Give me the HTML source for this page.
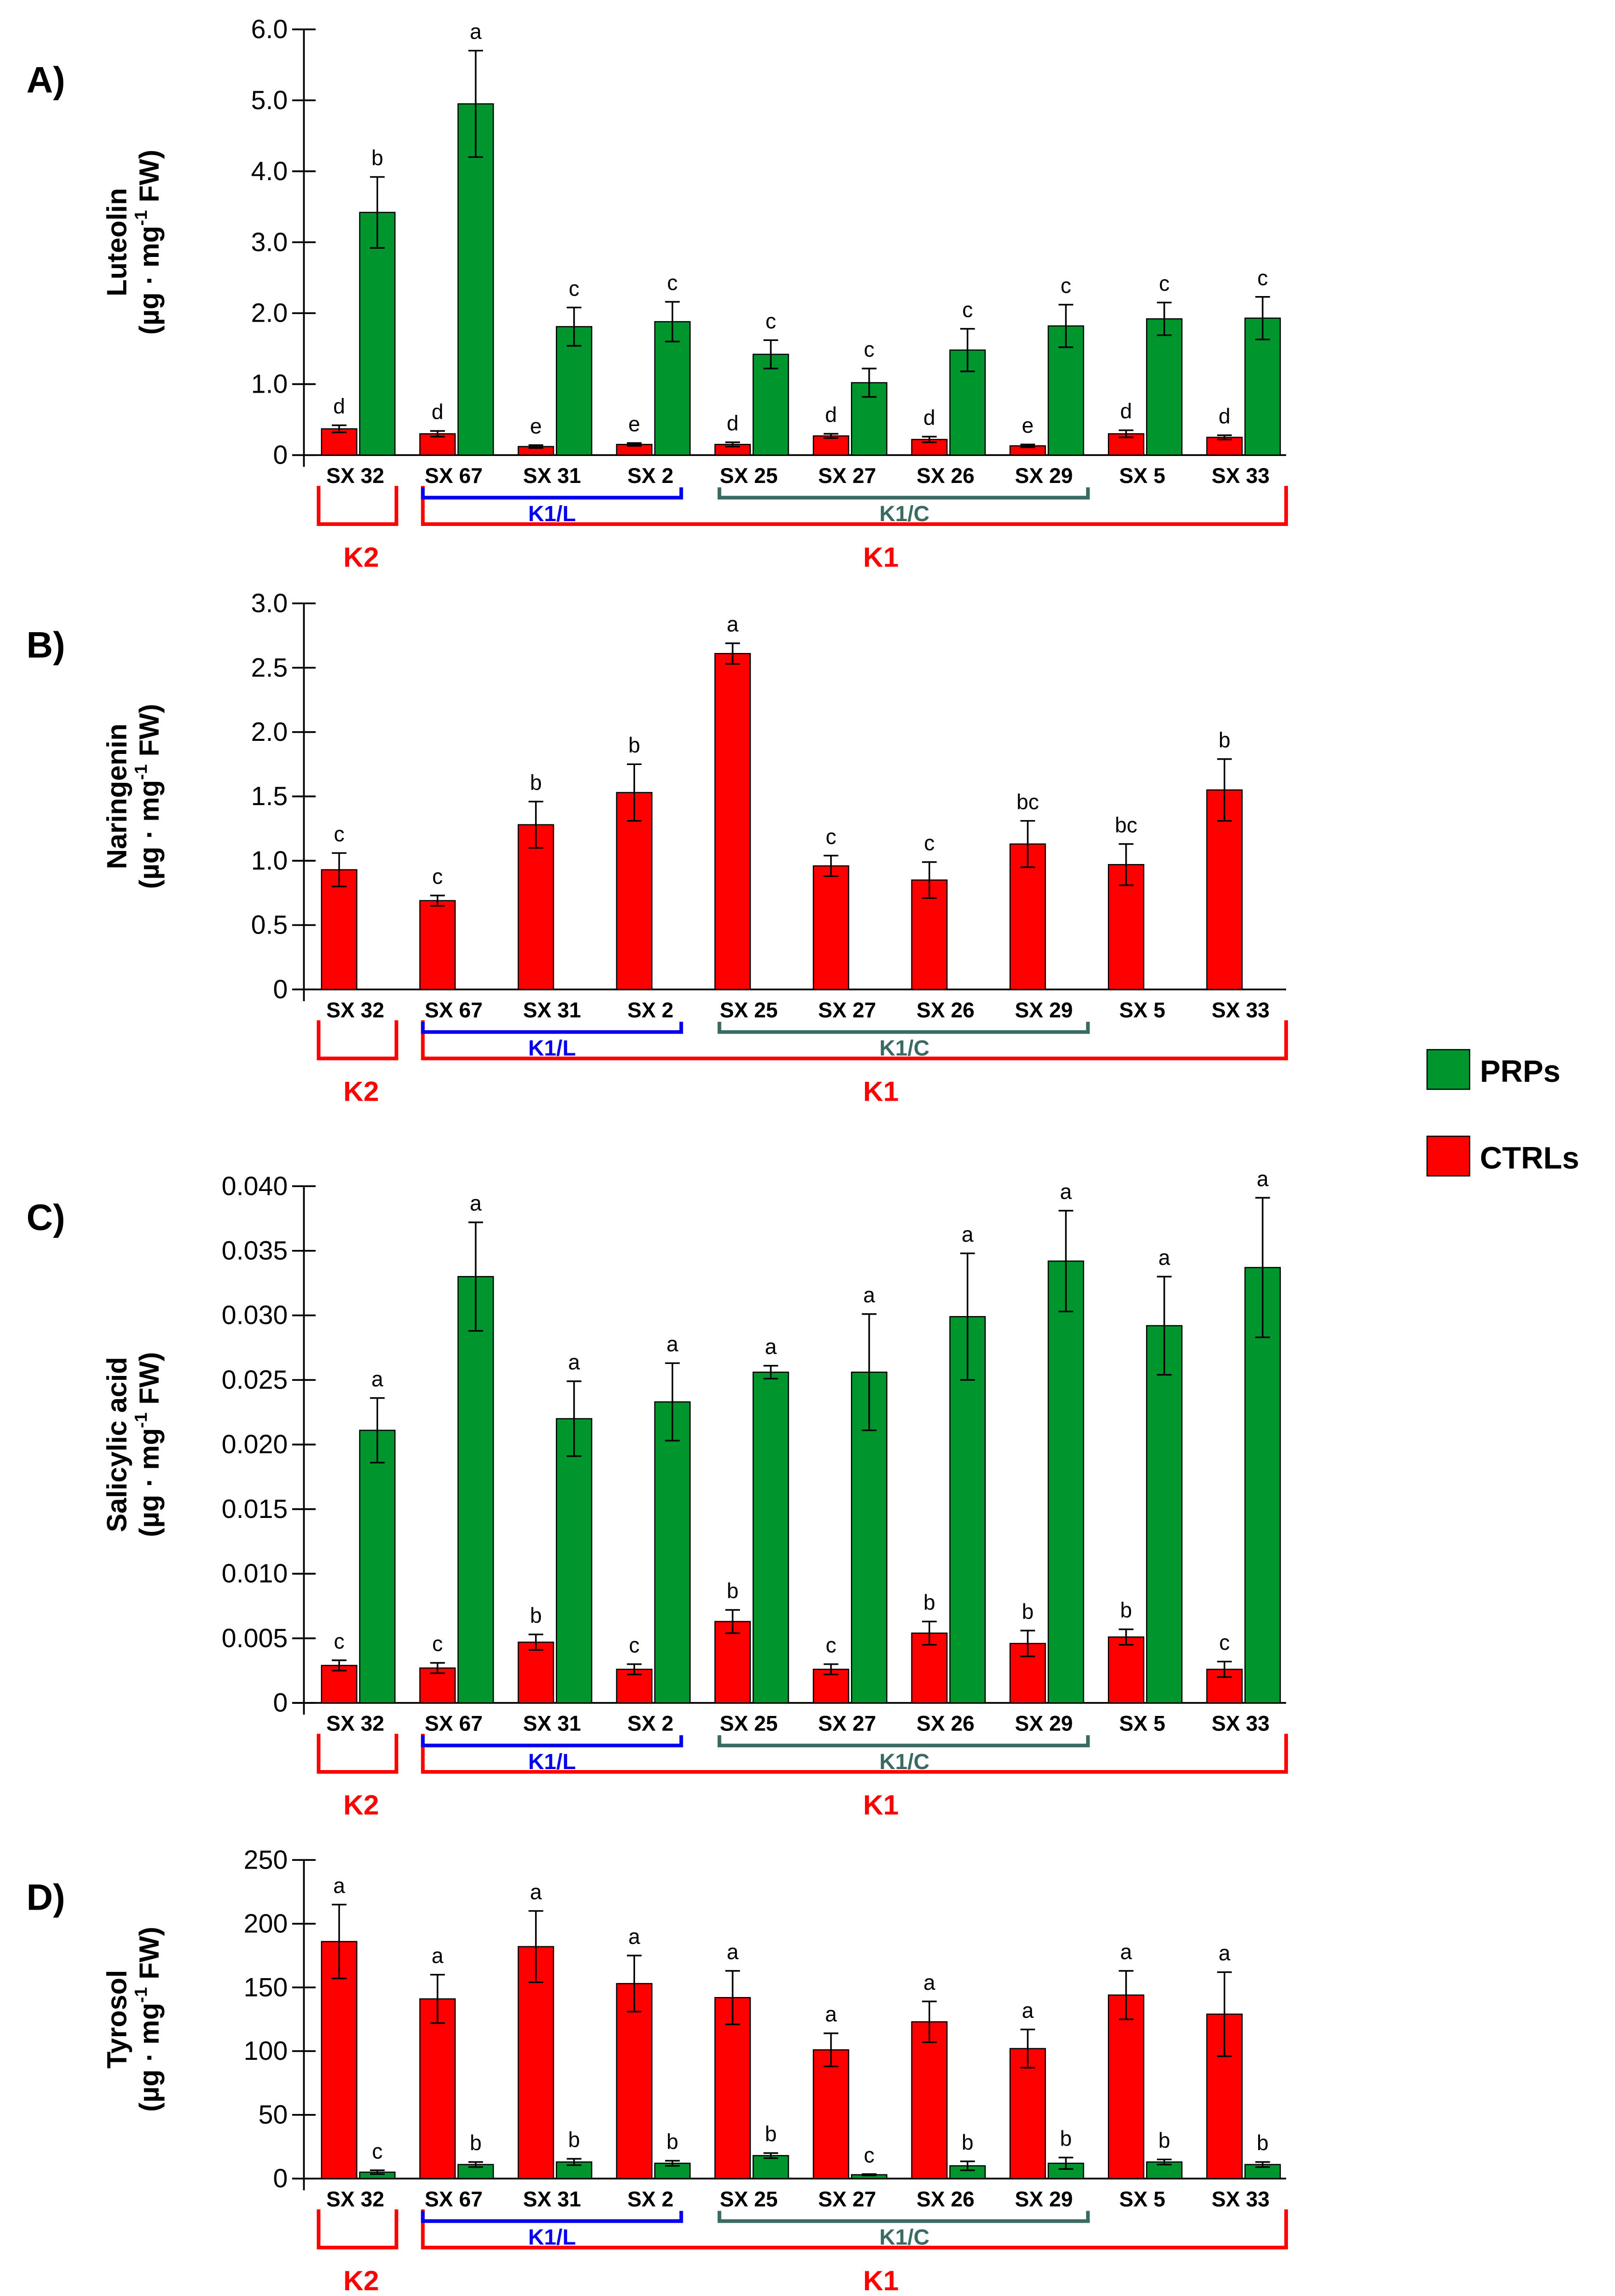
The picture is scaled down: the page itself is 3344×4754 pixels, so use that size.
<!DOCTYPE html>
<html><head><meta charset="utf-8"><style>
html,body{margin:0;padding:0;background:#fff}
svg{display:block}
text{font-family:"Liberation Sans",Arial,sans-serif}
</style></head>
<body>
<svg id="fig" width="3344" height="4754" viewBox="0 0 1100 1564" preserveAspectRatio="none" xmlns="http://www.w3.org/2000/svg"></svg>
<script>
const categories=["SX 32","SX 67","SX 31","SX 2","SX 25","SX 27","SX 26","SX 29","SX 5","SX 33"];
const lutRed=[0.37,0.30,0.12,0.15,0.15,0.27,0.22,0.13,0.30,0.25];
const lutRedErr=[0.05,0.04,0.02,0.02,0.03,0.03,0.04,0.02,0.05,0.03];
const lutGreen=[3.42,4.95,1.81,1.88,1.42,1.02,1.48,1.82,1.92,1.93];
const lutGreenErr=[0.5,0.75,0.27,0.28,0.2,0.2,0.3,0.3,0.23,0.3];
const lutRedLet=["d","d","e","e","d","d","d","e","d","d"];
const lutGreenLet=["b","a","c","c","c","c","c","c","c","c"];
const lutTicks=["0","1.0","2.0","3.0","4.0","5.0","6.0"];
const narRed=[0.93,0.69,1.28,1.53,2.61,0.96,0.85,1.13,0.97,1.55];
const narRedErr=[0.13,0.04,0.18,0.22,0.08,0.08,0.14,0.18,0.16,0.24];
const narRedLet=["c","c","b","b","a","c","c","bc","bc","b"];
const narTicks=["0","0.5","1.0","1.5","2.0","2.5","3.0"];
const salRed=[0.0029,0.0027,0.0047,0.0026,0.0063,0.0026,0.0054,0.0046,0.0051,0.0026];
const salRedErr=[0.0004,0.0004,0.0006,0.0004,0.0009,0.0004,0.0009,0.0010,0.0006,0.0006];
const salRedLet=["c","c","b","c","b","c","b","b","b","c"];
const salGreen=[0.0211,0.0330,0.0220,0.0233,0.0256,0.0256,0.0299,0.0342,0.0292,0.0337];
const salGreenErr=[0.0025,0.0042,0.0029,0.0030,0.0005,0.0045,0.0049,0.0039,0.0038,0.0054];
const salGreenLet=["a","a","a","a","a","a","a","a","a","a"];
const salTicks=["0","0.005","0.010","0.015","0.020","0.025","0.030","0.035","0.040"];
const tyrRed=[186,141,182,153,142,101,123,102,144,129];
const tyrRedErr=[29,19,28,22,21,13,16,15,19,33];
const tyrRedLet=["a","a","a","a","a","a","a","a","a","a"];
const tyrGreen=[5,11,13,12,18,3,10,12,13,11];
const tyrGreenErr=[1.5,2,2.5,2,2,0.5,3.5,4.5,2,2];
const tyrGreenLet=["c","b","b","b","b","c","b","b","b","b"];
const tyrTicks=["0","50","100","150","200","250"];

const NS="http://www.w3.org/2000/svg";
const svg=document.getElementById('fig');
function el(tag,attrs,parent,txt){const e=document.createElementNS(NS,tag);for(const k in attrs)e.setAttribute(k,attrs[k]);if(txt!==undefined)e.textContent=txt;(parent||svg).appendChild(e);return e;}
const AX=207, AXEND=876, C0=244, STEP=67;
function xc(i){return C0+i*STEP;}

function panel(o){
  const g=el('g',{});
  
  
  const y=v=>o.y0-(v/o.max)*(o.y0-o.yTop);
  const pl=el('text',{x:18,y:o.letterY,'font-size':25,'font-weight':'bold'},g,o.letter);
  
  
  const cy=(o.y0+o.yTop)/2;
  const t=el('text',{transform:`translate(86,${cy}) rotate(-90)`,'text-anchor':'middle','font-size':19,'font-weight':'bold'},g,o.title);
  
  
  const t2=el('text',{transform:`translate(108,${cy}) rotate(-90)`,'text-anchor':'middle','font-size':19,'font-weight':'bold'},g);
  
  
  el('tspan',{},t2,'(µg · mg');
  el('tspan',{'font-size':12,dy:-8},t2,'-1');
  el('tspan',{dy:8},t2,' FW)');
  const ya=el('line',{x1:AX,y1:o.yTop,x2:AX,y2:o.y0+8,stroke:'#000','stroke-width':1.2},g);
  
  
  const xa=el('line',{x1:AX-8,y1:o.y0,x2:AXEND,y2:o.y0,stroke:'#000','stroke-width':1.2},g);
  
  
  o.ticks.forEach((tk,i)=>{
    const v=i*o.max/(o.ticks.length-1), yy=y(v);
    const l=el('line',{x1:AX-8,y1:yy,x2:AX+8,y2:yy,stroke:'#000','stroke-width':1.2},g);
    
    
    const tx=el('text',{x:AX-11,y:yy+6,'text-anchor':'end','font-size':18},g,tk);
    
    
  });
  const series=[];
  if(o.red)series.push({v:o.red,e:o.redErr,l:o.redLet,c:'#ff0000',off:-25,n:'ctrl'});
  if(o.green)series.push({v:o.green,e:o.greenErr,l:o.greenLet,c:'#00962e',off:1,n:'prp'});
  series.forEach(s=>{
    s.v.forEach((v,i)=>{
      const x=xc(i)+s.off, top=y(v);
      const b=el('rect',{x:x,y:top,width:24,height:o.y0-top,fill:s.c,stroke:'#000','stroke-width':0.8},g);
      
      
      const cx=x+12, e1=y(v+s.e[i]), e2=y(Math.max(0,v-s.e[i]));
      const eb=el('path',{d:`M${cx},${e1}V${e2}M${cx-5},${e1}H${cx+5}M${cx-5},${e2}H${cx+5}`,stroke:'#000','stroke-width':1.1,fill:'none'},g);
      
      
      const lt=el('text',{x:cx,y:e1-8,'text-anchor':'middle','font-size':14.5},g,s.l[i]);
      
      
    });
  });
  categories.forEach((c,i)=>{
    const lx=el('text',{x:xc(i)-2,y:o.y0+19,'text-anchor':'middle','font-size':14.5,'font-weight':'bold'},g,c);
    
    
  });
  const by=o.y0+21, bb=o.y0+47;
  const br=(d,c,w,n)=>{const p=el('path',{d:d,stroke:c,'stroke-width':w,fill:'none'},g);};
  br(`M217,${by}V${bb}H270V${by}`,'#ff0000',2.5,'k2-bracket');
  br(`M288,${by}V${bb}H876V${by}`,'#ff0000',2.5,'k1-bracket');
  br(`M288,${by+1}V${by+8}H464V${by+1}`,'#0000ee',2.5,'k1l-bracket');
  br(`M490,${by+1}V${by+8}H741V${by+1}`,'#3a6b62',2.5,'k1c-bracket');
  const lab=(x,yy,txt,c,sz,n)=>{const q=el('text',{x:x,y:yy,'text-anchor':'middle','font-size':sz,'font-weight':'bold',fill:c},g,txt);};
  lab(376,by+24,'K1/L','#0000ee',15,'k1l-label');
  lab(616,by+24,'K1/C','#3a6b62',15,'k1c-label');
  lab(246,bb+29,'K2','#ff0000',19,'k2-label');
  lab(600,bb+29,'K1','#ff0000',19,'k1-label');
}
panel({name:'luteolin',letter:'A)',letterY:63,title:'Luteolin',y0:310,yTop:20,max:6,ticks:lutTicks,red:lutRed,redErr:lutRedErr,redLet:lutRedLet,green:lutGreen,greenErr:lutGreenErr,greenLet:lutGreenLet});
panel({name:'naringenin',letter:'B)',letterY:448,title:'Naringenin',y0:674,yTop:411,max:3,ticks:narTicks,red:narRed,redErr:narRedErr,redLet:narRedLet});
panel({name:'salicylic',letter:'C)',letterY:838,title:'Salicylic acid',y0:1160,yTop:808,max:0.04,ticks:salTicks,red:salRed,redErr:salRedErr,redLet:salRedLet,green:salGreen,greenErr:salGreenErr,greenLet:salGreenLet});
panel({name:'tyrosol',letter:'D)',letterY:1301,title:'Tyrosol',y0:1484,yTop:1267,max:250,ticks:tyrTicks,red:tyrRed,redErr:tyrRedErr,redLet:tyrRedLet,green:tyrGreen,greenErr:tyrGreenErr,greenLet:tyrGreenLet});
const lg=el('g',{});


const s1=el('rect',{x:972,y:715,width:29,height:27,fill:'#00962e',stroke:'#000','stroke-width':0.8},lg);


const l1=el('text',{x:1008,y:737,'font-size':21,'font-weight':'bold'},lg,'PRPs');


const s2=el('rect',{x:972,y:774,width:29,height:27,fill:'#ff0000',stroke:'#000','stroke-width':0.8},lg);


const l2=el('text',{x:1008,y:796,'font-size':21,'font-weight':'bold'},lg,'CTRLs');


</script>
</body></html>
